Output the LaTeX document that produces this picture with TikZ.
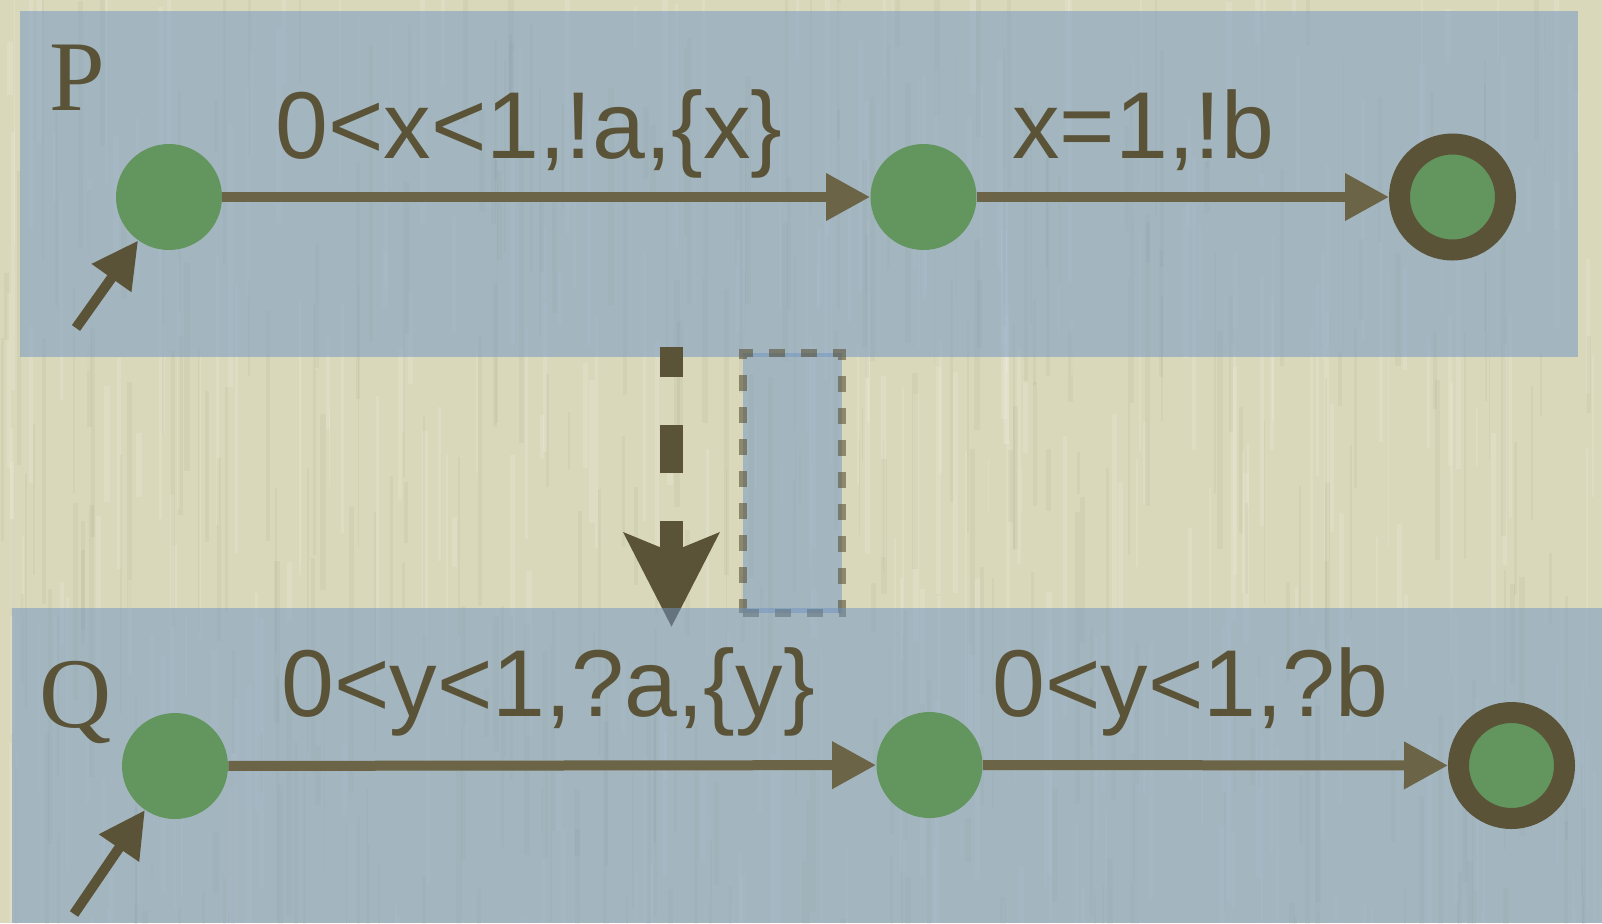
\documentclass[tikz,border=0pt]{standalone}
\usepackage{fontspec}
\newfontfamily\edgefont{Liberation Sans}
\newfontfamily\namefont{Liberation Serif}
\usetikzlibrary{arrows.meta}

\definecolor{paper}{HTML}{DAD8BA}
\definecolor{slate}{HTML}{6E94C2}
\definecolor{ink}{HTML}{5A5338}
\definecolor{edgeink}{HTML}{6B6446}
\definecolor{leaf}{HTML}{63965E}

\tikzset{
  lbl/.style={anchor=base west, inner sep=0pt, text=ink},
  guard/.style={lbl, font=\edgefont\fontsize{47.5pt}{50pt}\selectfont},
  autname/.style={lbl, font=\namefont\fontsize{50pt}{52pt}\selectfont},
  loc/.style={circle, fill=leaf, minimum size=53pt, inner sep=0pt},
  finalloc/.style={loc, draw=ink, line width=10.5pt},
  trans/.style={draw=edgeink, line width=5pt, -{Triangle[length=22pt,width=22.5pt]}},
  entry/.style={draw=ink, line width=5pt, -{Triangle[length=23pt,width=23pt]}},
  panel/.style={fill=slate, fill opacity=0.5},
  refine/.style={draw=ink, line width=11.5pt, dash pattern=on 24pt off 24pt, dash phase=9pt,
    -{Stealth[length=46.5pt,width=46.5pt,inset=9pt]}},
  slotbox/.style={fill=slate, fill opacity=0.5, draw=ink, draw opacity=0.6, line width=4pt,
    dash pattern=on 8pt off 8pt},
}

\begin{document}
\begin{tikzpicture}[x=0.5pt, y=-0.5pt]
\useasboundingbox (0,0) rectangle (1602,923);

% paper with vertical grain
\fill[paper] (0,0) rectangle (1602,923);
\pgfmathsetseed{42}
\foreach \i in {1,...,320}{
  \pgfmathsetmacro\sx{rnd*1602}
  \pgfmathsetmacro\sy{rnd*1000-80}
  \pgfmathsetmacro\sl{40+rnd*260}
  \pgfmathsetmacro\sw{0.6+rnd*2.4}
  \draw[line width=\sw pt, white, opacity=0.12] (\sx,\sy) -- ++(0,\sl);
}
\foreach \i in {1,...,320}{
  \pgfmathsetmacro\sx{rnd*1602}
  \pgfmathsetmacro\sy{rnd*1000-80}
  \pgfmathsetmacro\sl{40+rnd*260}
  \pgfmathsetmacro\sw{0.6+rnd*2.4}
  \draw[line width=\sw pt, ink, opacity=0.05] (\sx,\sy) -- ++(0,\sl);
}

% automaton P
\fill[panel] (20,11) rectangle (1578,357);

% refinement arrow and the gap box between the panels
\coordinate (rfrom) at (671.5,347);
\coordinate (rto) at (671.5,627);
\draw[refine] (rfrom) -- (rto);
\node[slotbox, minimum width=49.5pt, minimum height=130pt, inner sep=0pt] (slot) at (792.5,483) {};

% automaton Q
\fill[panel] (12,608) rectangle (1602,923);

% locations of P
\node[loc] (p0) at (169,197) {};
\node[loc] (p1) at (923.5,197) {};
\node[finalloc] (p2) at (1452.5,197) {};
\coordinate (pin) at (76,328);
\draw[entry] (pin) -- (p0);
\draw[trans] (p0) -- (p1);
\draw[trans] (p1) -- (p2);

% locations of Q
\node[loc] (q0) at (175,766) {};
\node[loc] (q1) at (929.5,765) {};
\node[finalloc] (q2) at (1511.5,765.5) {};
\coordinate (qin) at (74,914);
\draw[entry] (qin) -- (q0);
\draw[trans] (q0) -- (q1);
\draw[trans] (q1) -- (q2);

% names and guards
\node[autname] (nameP) at (49.5,110) {P};
\node[autname] (nameQ) at (39.5,727) {Q};
\node[guard] (gp01) at (275,158) {0<x<1,!a,\{x\}};
\node[guard] (gp12) at (1012,158) {x=1,!b};
\node[guard] (gq01) at (281,716) {0<y<1,?a,\{y\}};
\node[guard] (gq12) at (992,716) {0<y<1,?b};
\end{tikzpicture}
\end{document}
